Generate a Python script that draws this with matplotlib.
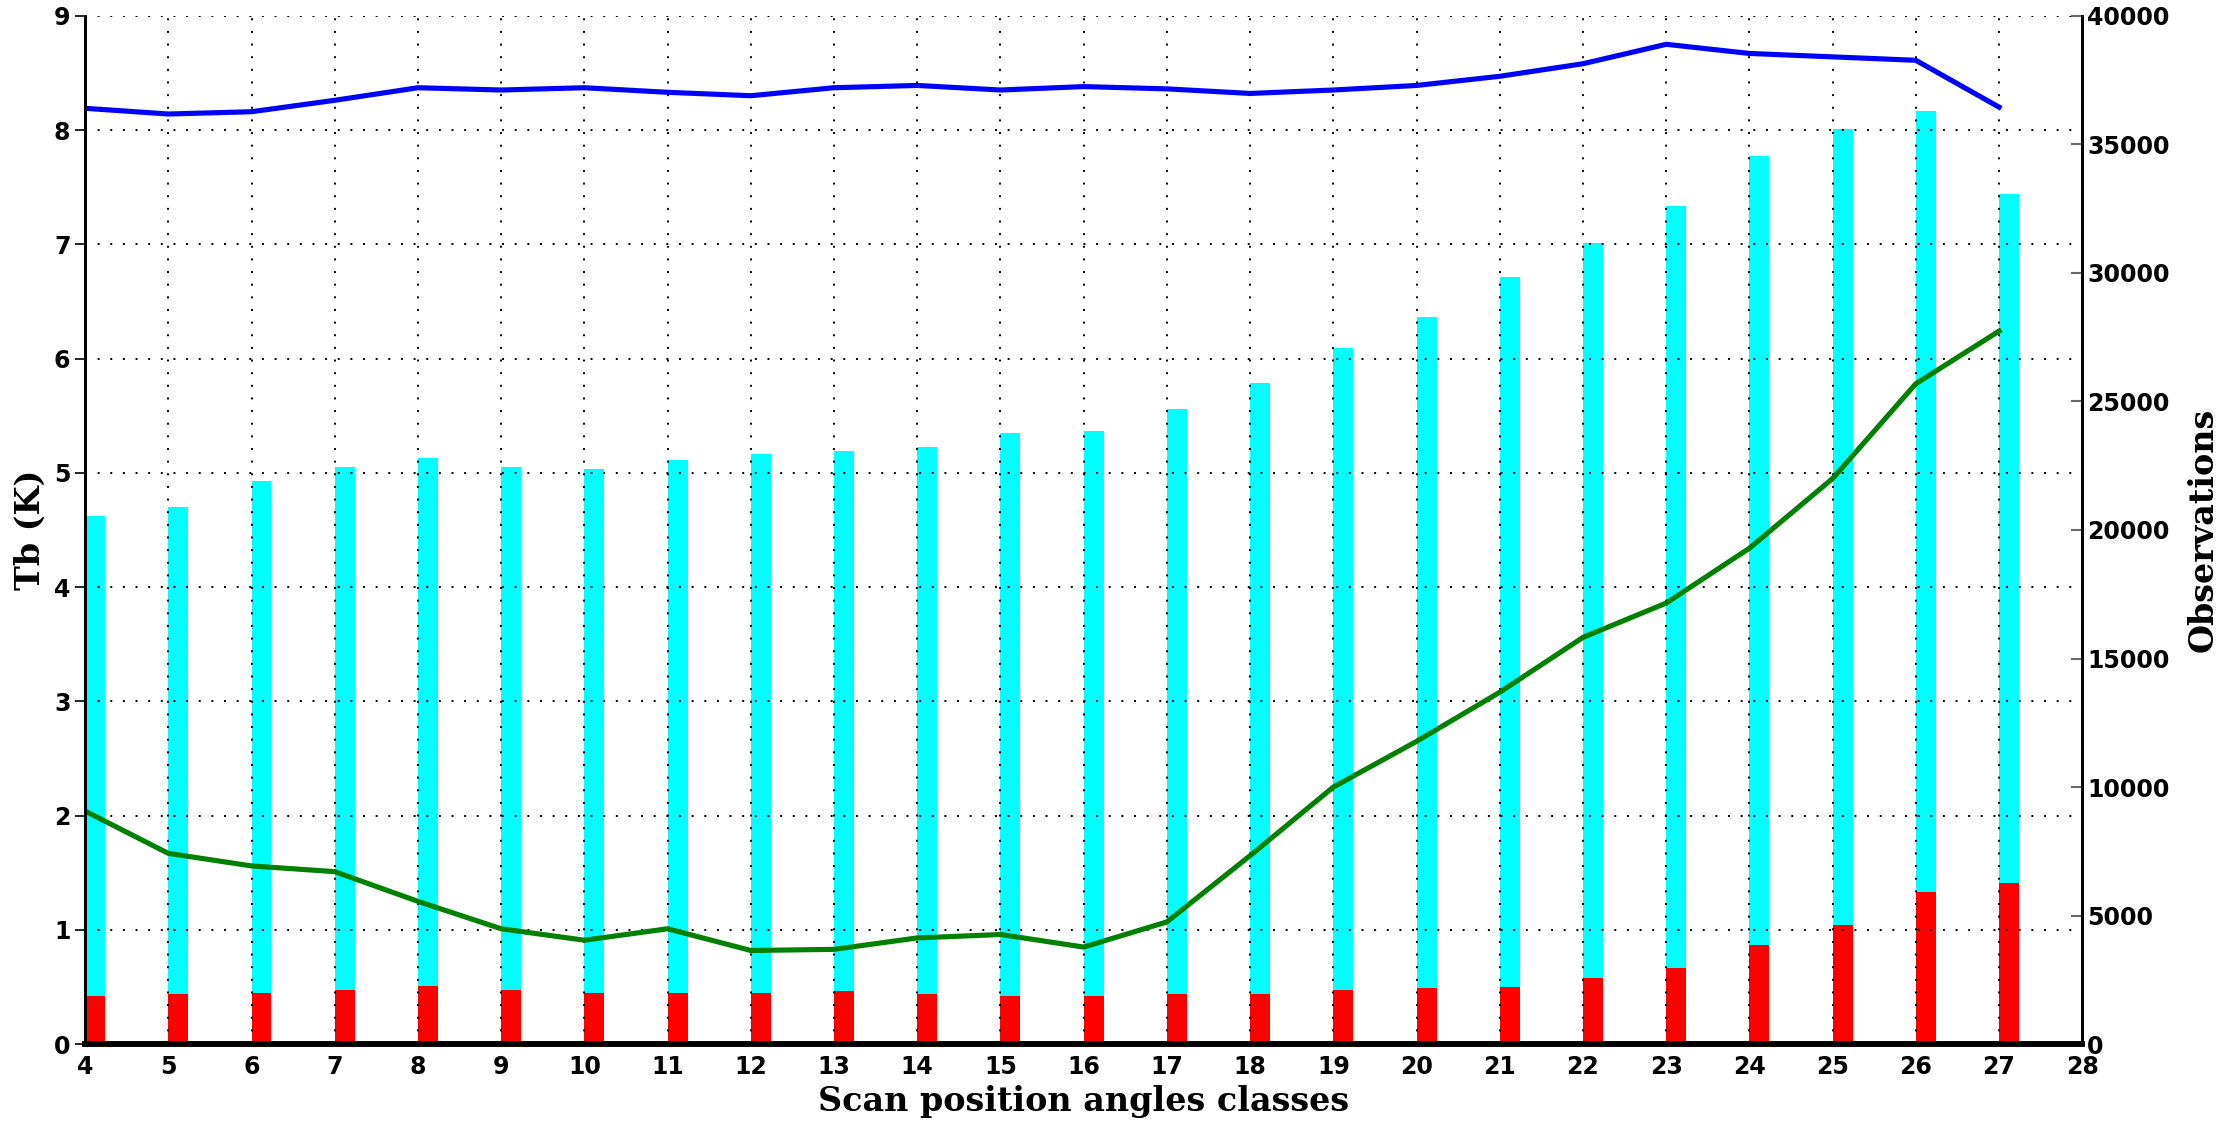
import numpy as np
import matplotlib
matplotlib.use("Agg")
import matplotlib.pyplot as plt

# Scan position angle classes
scan_pos = [4, 5, 6, 7, 8, 9, 10, 11, 12, 13, 14, 15, 16, 17, 18, 19, 20, 21, 22, 23, 24, 25, 26, 27]

# Tb statistics (K)
tb_blue = [8.19, 8.14, 8.16, 8.26, 8.37, 8.35, 8.37, 8.33, 8.30, 8.37, 8.39, 8.35,
           8.38, 8.36, 8.32, 8.35, 8.39, 8.47, 8.58, 8.75, 8.67, 8.64, 8.61, 8.20]
tb_green = [2.04, 1.67, 1.56, 1.51, 1.25, 1.01, 0.91, 1.01, 0.82, 0.83, 0.93, 0.96,
            0.85, 1.07, 1.65, 2.25, 2.65, 3.08, 3.56, 3.86, 4.34, 4.95, 5.78, 6.24]

# Observation counts
obs_total = [20550, 20890, 21890, 22440, 22780, 22440, 22390, 22720, 22950, 23060, 23220, 23780,
             23830, 24720, 25720, 27060, 28280, 29830, 31170, 32610, 34560, 35610, 36280, 33060]
obs_red = [1890, 1940, 2000, 2110, 2280, 2110, 2000, 2000, 2000, 2060, 1940, 1890,
           1890, 1940, 1940, 2110, 2170, 2240, 2590, 2950, 3860, 4650, 5900, 6270]

fig = plt.figure(figsize=(22.39, 11.24), dpi=100)
ax1 = fig.add_axes([0.038, 0.071, 0.892, 0.915])
ax2 = ax1.twinx()

# bars on the right axis, behind the lines
ax2.bar(scan_pos, obs_total, width=0.24, align='edge', color='cyan', linewidth=0)
ax2.bar(scan_pos, obs_red, width=0.24, align='edge', color='red', linewidth=0)
ax2.set_ylim(0, 40000)
ax2.set_yticks(np.arange(0, 40001, 5000))

ax1.set_zorder(ax2.get_zorder() + 1)
ax1.patch.set_visible(False)

ax1.plot(scan_pos, tb_blue, color='blue', linewidth=3.7)
ax1.plot(scan_pos, tb_green, color='green', linewidth=3.7)
ax1.set_xlim(4, 28)
ax1.set_ylim(0, 9)
ax1.set_xticks(range(4, 29))
ax1.set_yticks(range(0, 10))
ax1.grid(True, color='black', linestyle=(0, (1, 5.5)), linewidth=1.4)

for ax in (ax1, ax2):
    ax.spines['top'].set_visible(False)
    ax.spines['left'].set_linewidth(2)
    ax.spines['right'].set_linewidth(2)
    ax.spines['bottom'].set_linewidth(4)

ax1.tick_params(axis='y', direction='out', length=7, width=1.2, labelsize=17)
ax1.tick_params(axis='x', length=0, labelsize=17, pad=8)
ax2.tick_params(axis='y', direction='in', length=8, width=1.5, color='dimgray', labelsize=17)
for lab in ax1.get_xticklabels() + ax1.get_yticklabels() + ax2.get_yticklabels():
    lab.set_fontweight('bold')

ax1.set_xlabel("Scan position angles classes", fontsize=24, fontweight='bold', family='DejaVu Serif', labelpad=4)
ax1.set_ylabel("Tb (K)", fontsize=24, fontweight='bold', family='DejaVu Serif', labelpad=5)
ax2.set_ylabel("Observations", fontsize=24, fontweight='bold', family='DejaVu Serif', labelpad=12)

fig.savefig("out.png", dpi=100)
